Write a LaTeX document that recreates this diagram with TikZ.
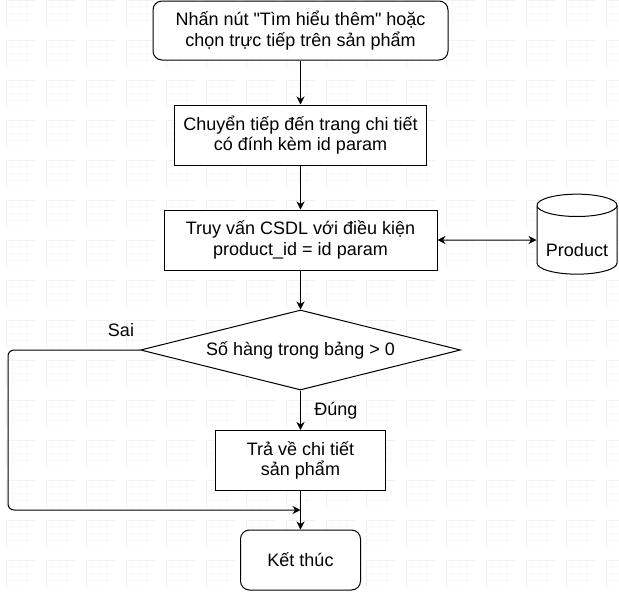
\documentclass[tikz,border=0pt]{standalone}
\usepackage{fontspec}
\setmainfont{Liberation Sans}
\usetikzlibrary{shapes.geometric, arrows.meta}

\begin{document}
\begin{tikzpicture}[x=1pt, y=-1pt, ->, >={Stealth[length=8pt, width=8pt, inset=2.5pt]}, line width=1pt,
	every node/.style={font=\fontsize{18}{20.5}\selectfont, align=center},
	proc/.style={draw, fill=white, minimum height=60pt, inner sep=2pt},
	term/.style={proc, rounded corners=9pt},
	decision/.style={draw, fill=white, diamond, aspect=4, minimum width=320pt, minimum height=80pt, inner sep=0pt},
	db/.style={draw, fill=white, cylinder, shape border rotate=90, aspect=0.36, minimum width=80pt, minimum height=80pt, inner sep=0pt},
	major/.style={-, draw=gray!12},
	minor/.style={-, draw=gray!5}]
	\useasboundingbox (0,0) rectangle (619,592);
	\fill[white] (0,0) rectangle (619,592);

	% background grid
	\foreach \i in {0,...,15} {
		\foreach \j in {0,...,14} {
			\foreach \d in {6.7,13.3,20} {
				\draw[minor] ({40*\i+6+\d},{40*\j}) -- ++(0,27);
				\draw[minor] ({40*\i+6},{40*\j+\d}) -- ++(28,0);
			}
			\draw[major] ({40*\i+6},{40*\j+27}) |- ++(28,-27);
		}
	}

	\node[term, minimum width=295pt, minimum height=59pt] (1) at (300.5,30.5) {Nhấn nút \textquotedbl Tìm hiểu thêm\textquotedbl{} hoặc\\chọn trực tiếp trên sản phẩm};
	\node[proc, minimum width=252pt] (2) at (300.5,135) {Chuyển tiếp đến trang chi tiết\\có đính kèm id param};
	\node[proc, minimum width=273pt] (3) at (300.5,240) {Truy vấn CSDL với điều kiện\\product\_id = id param};
	\node[db] (4) at (577,240) {\raisebox{-10pt}[\height][\depth]{Product}};
	\node[decision] (5) at (300.5,350) {Số hàng trong bảng > 0};
	\node[proc, minimum width=170pt] (6) at (300.5,460.5) {Trả về chi tiết\\sản phẩm};
	\node[term, minimum width=120pt] (7) at (300.5,560) {Kết thúc};
	\node (sai) at (121,330) {Sai};

	\draw 	(1) edge (2)
			(2) edge (3)
			(3) edge (5)
			(5) edge node[right=10pt] {Đúng} (6)
			(6) edge (7)
	;

	\draw[<->] (3) -- (4);

	\coordinate (back) at (8,510);
	\coordinate (join) at (300.5,510);
	\draw[rounded corners=6pt] (5.west) -| (back) -- (join);
\end{tikzpicture}
\end{document}
